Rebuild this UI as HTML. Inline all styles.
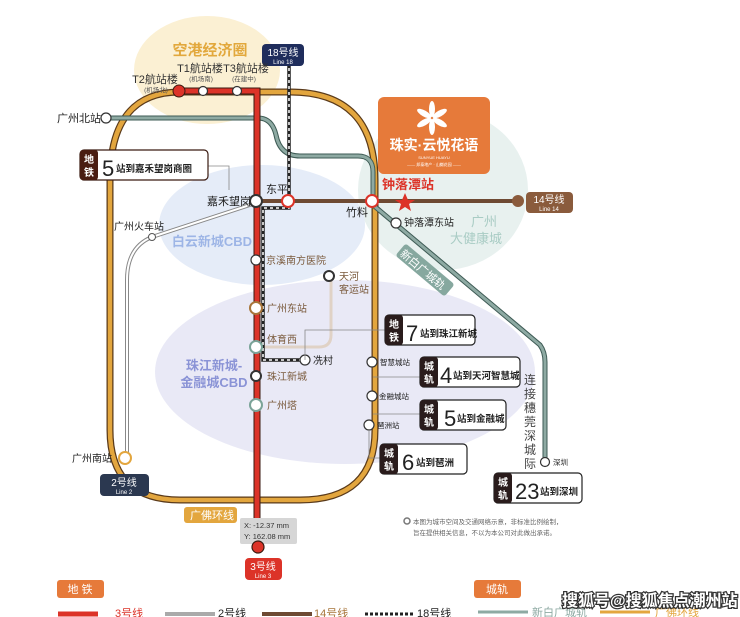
<!DOCTYPE html>
<html><head><meta charset="utf-8"><style>
body{margin:0;background:#fff;}
svg{display:block;font-family:"Liberation Sans","Noto Sans CJK SC",sans-serif;}
</style></head><body>
<svg width="740" height="617" viewBox="0 0 740 617" xmlns="http://www.w3.org/2000/svg">
<ellipse cx="207" cy="70" rx="73" ry="54" fill="#fbf0d3"/>
<ellipse cx="443" cy="190" rx="85" ry="80" fill="#e8f1ef"/>
<ellipse cx="262" cy="225" rx="103" ry="60" fill="#e5ecf8"/>
<ellipse cx="345" cy="372" rx="190" ry="92" fill="#e9e9f6"/>
<text x="210" y="55" font-size="15" font-weight="bold" fill="#e2a83c" text-anchor="middle">空港经济圈</text>
<text x="212" y="246" font-size="13" fill="#9db5e6" text-anchor="middle" font-weight="bold">白云新城CBD</text>
<text x="214" y="370" font-size="13" fill="#8a93d6" text-anchor="middle" font-weight="bold">珠江新城-</text>
<text x="214" y="387" font-size="13" fill="#8a93d6" text-anchor="middle" font-weight="bold">金融城CBD</text>
<text x="484" y="226" font-size="13" fill="#a9ccc4" text-anchor="middle">广州</text>
<text x="476" y="243" font-size="13" fill="#a9ccc4" text-anchor="middle">大健康城</text>

<path d="M180,92 L290,92 Q375,92 375,180 L375,430 Q375,500 300,500 L180,500 Q110,500 110,430 L110,180 Q110,92 180,92 Z" fill="none" stroke="#5a3a1a" stroke-width="7"/>
<path d="M180,92 L290,92 Q375,92 375,180 L375,430 Q375,500 300,500 L180,500 Q110,500 110,430 L110,180 Q110,92 180,92 Z" fill="none" stroke="#e3a63e" stroke-width="4.5"/>

<path d="M256,203 L152,237 Q127,247 127,280 L127,455" fill="none" stroke="#888" stroke-width="4"/>
<path d="M256,203 L152,237 Q127,247 127,280 L127,455" fill="none" stroke="#fff" stroke-width="2"/>
<path d="M331,280 L331,335 Q331,347 319,347 L262,347" fill="none" stroke="#e0d2c6" stroke-width="3"/>

<path d="M108,118 L258,118 Q272,118 276,135 Q280,156 300,156 L358,156 Q373,156 373,172 L373,205 L540,345 Q545,352 545,362 L545,462" fill="none" stroke="#3e5b55" stroke-width="5"/>
<path d="M108,118 L258,118 Q272,118 276,135 Q280,156 300,156 L358,156 Q373,156 373,172 L373,205 L540,345 Q545,352 545,362 L545,462" fill="none" stroke="#8eaaa3" stroke-width="3"/>
<g transform="translate(425,270) rotate(40)"><rect x="-32" y="-8" width="64" height="16" rx="3" fill="#86a89f"/><text x="-2" y="5" font-size="11" fill="#fff" text-anchor="middle">新白广城轨</text></g>
<text font-size="12" fill="#444"><tspan x="524" y="384">连</tspan><tspan x="524" y="398">接</tspan><tspan x="524" y="412">穗</tspan><tspan x="524" y="426">莞</tspan><tspan x="524" y="440">深</tspan><tspan x="524" y="454">城</tspan><tspan x="524" y="468">际</tspan></text>

<line x1="258" y1="201" x2="518" y2="201" stroke="#6e4a33" stroke-width="4"/>
<circle cx="518" cy="201" r="6" fill="#8a5b3c"/>
<rect x="526" y="192" width="47" height="21" rx="4" fill="#8a5b3c"/>
<text x="549" y="203" font-size="10" fill="#fff" text-anchor="middle">14号线</text>
<text x="549" y="211" font-size="6" fill="#fff" text-anchor="middle">Line 14</text>

<path d="M289,62 L289,208 L263,208 L263,360 L305,360" fill="none" stroke="#222" stroke-width="3.5"/>
<path d="M289,62 L289,208 L263,208 L263,360 L305,360" fill="none" stroke="#fff" stroke-width="1.5" stroke-dasharray="3,3"/>
<rect x="262" y="44" width="42" height="22" rx="4" fill="#1f2d5c"/>
<text x="283" y="56" font-size="10" fill="#fff" text-anchor="middle">18号线</text>
<text x="283" y="64" font-size="6" fill="#fff" text-anchor="middle">Line 18</text>

<path d="M178,91 L257,91 L257,545" fill="none" stroke="#3a1a10" stroke-width="7"/>
<path d="M178,91 L257,91 L257,545" fill="none" stroke="#dc3328" stroke-width="5"/>
<circle cx="179" cy="91" r="6" fill="#dc3328" stroke="#3a1a10" stroke-width="1"/>
<circle cx="203" cy="91" r="4.5" fill="#fff" stroke="#333" stroke-width="1.2"/>
<circle cx="237" cy="91" r="4.5" fill="#fff" stroke="#333" stroke-width="1.2"/>
<rect x="240" y="518" width="57" height="26" rx="2" fill="#d6d6d6"/>
<text x="244" y="528" font-size="7.5" fill="#333">X: -12.37 mm</text>
<text x="244" y="539" font-size="7.5" fill="#333">Y: 162.08 mm</text>
<circle cx="258" cy="547" r="6" fill="#dc3328" stroke="#3a1a10" stroke-width="1.2"/>
<rect x="245" y="558" width="37" height="22" rx="4" fill="#dc3328"/>
<text x="263" y="570" font-size="10" fill="#fff" text-anchor="middle">3号线</text>
<text x="263" y="578" font-size="6" fill="#fff" text-anchor="middle">Line 3</text>
<rect x="184" y="507" width="53" height="16" rx="3" fill="#e3a63e"/>
<text x="190" y="519" font-size="11" fill="#fff">广佛环线</text>

<text x="155" y="83" font-size="11" fill="#333" text-anchor="middle">T2航站楼</text>
<text x="156" y="92" font-size="6.5" fill="#555" text-anchor="middle">(机场北)</text>
<text x="200" y="72" font-size="11" fill="#333" text-anchor="middle">T1航站楼</text>
<text x="201" y="81" font-size="6.5" fill="#555" text-anchor="middle">(机场南)</text>
<text x="246" y="72" font-size="11" fill="#333" text-anchor="middle">T3航站楼</text>
<text x="244" y="81" font-size="6.5" fill="#555" text-anchor="middle">(在建中)</text>

<circle cx="106" cy="118" r="5" fill="#fff" stroke="#333" stroke-width="1.2"/>
<text x="57" y="122" font-size="11" fill="#222">广州北站</text>
<circle cx="256" cy="201" r="6" fill="#fff" stroke="#333" stroke-width="2"/>
<text x="207" y="205" font-size="11" fill="#222">嘉禾望岗</text>
<circle cx="288" cy="201" r="6" fill="#fff" stroke="#dc3328" stroke-width="2"/>
<text x="266" y="193" font-size="11" fill="#222">东平</text>
<circle cx="372" cy="201" r="6" fill="#fff" stroke="#dc3328" stroke-width="2"/>
<text x="346" y="216" font-size="11" fill="#222">竹料</text>
<polygon points="405,193 408,200 415,200 409,204 411,211 405,207 399,211 401,204 395,200 402,200" fill="#dc3328"/>
<text x="382" y="189" font-size="13" font-weight="bold" fill="#dc3328">钟落潭站</text>
<circle cx="396" cy="223" r="5" fill="#fff" stroke="#333" stroke-width="1.2"/>
<text x="404" y="226" font-size="10" fill="#222">钟落潭东站</text>
<circle cx="152" cy="237" r="3.5" fill="#fff" stroke="#555" stroke-width="1"/>
<text x="114" y="230" font-size="10" fill="#222">广州火车站</text>
<circle cx="256" cy="260" r="5" fill="#fff" stroke="#333" stroke-width="1.2"/>
<text x="266" y="264" font-size="10" fill="#7a5a3c">京溪南方医院</text>
<circle cx="329" cy="276" r="5" fill="#fff" stroke="#333" stroke-width="2"/>
<text x="339" y="280" font-size="10" fill="#7a5a3c">天河</text>
<text x="339" y="293" font-size="10" fill="#7a5a3c">客运站</text>
<circle cx="256" cy="308" r="6" fill="#fff" stroke="#a8753a" stroke-width="2"/>
<text x="267" y="312" font-size="10" fill="#7a5a3c">广州东站</text>
<circle cx="256" cy="347" r="6" fill="#fff" stroke="#7aa398" stroke-width="2"/>
<text x="267" y="343" font-size="10" fill="#7a5a3c">体育西</text>
<circle cx="305" cy="360" r="5" fill="#fff" stroke="#333" stroke-width="1.2"/>
<text x="313" y="364" font-size="10" fill="#222">冼村</text>
<circle cx="256" cy="376" r="5" fill="#fff" stroke="#333" stroke-width="2"/>
<text x="267" y="380" font-size="10" fill="#7a5a3c">珠江新城</text>
<circle cx="256" cy="405" r="6" fill="#fff" stroke="#7aa398" stroke-width="2"/>
<text x="267" y="409" font-size="10" fill="#7a5a3c">广州塔</text>
<circle cx="372" cy="362" r="5" fill="#fff" stroke="#333" stroke-width="1.2"/>
<text x="380" y="365" font-size="7.5" fill="#222">智慧城站</text>
<circle cx="372" cy="396" r="5" fill="#fff" stroke="#333" stroke-width="1.2"/>
<text x="379" y="399" font-size="7.5" fill="#222">金融城站</text>
<circle cx="369" cy="425" r="5" fill="#fff" stroke="#333" stroke-width="1.2"/>
<text x="377" y="428" font-size="7.5" fill="#222">琶洲站</text>
<circle cx="545" cy="462" r="4.5" fill="#fff" stroke="#333" stroke-width="1.2"/>
<text x="553" y="465" font-size="7.5" fill="#222">深圳</text>
<circle cx="125" cy="458" r="6" fill="#fff" stroke="#e3a63e" stroke-width="2"/>
<text x="72" y="462" font-size="10" fill="#222">广州南站</text>
<rect x="100" y="474" width="49" height="22" rx="4" fill="#2b3850"/>
<text x="124" y="486" font-size="10" fill="#fff" text-anchor="middle">2号线</text>
<text x="124" y="494" font-size="6" fill="#fff" text-anchor="middle">Line 2</text>

<path d="M208,166 L229,166 L229,190" fill="none" stroke="#888" stroke-width="0.8"/>
<path d="M385,330 L305,330 L305,360" fill="none" stroke="#888" stroke-width="0.8"/>
<path d="M420,377 L373,377" fill="none" stroke="#888" stroke-width="0.8"/>
<path d="M420,414 L373,414" fill="none" stroke="#888" stroke-width="0.8"/>
<path d="M380,458 L369,458 L369,430" fill="none" stroke="#888" stroke-width="0.8"/>

<g font-weight="bold">
<rect x="80" y="150" width="128" height="30" rx="4" fill="#fff" stroke="#3a1a10" stroke-width="1.2"/>
<rect x="80" y="150" width="18" height="30" rx="3" fill="#4a1d12"/>
<text x="89" y="163" font-size="10" fill="#fff" text-anchor="middle">地</text><text x="89" y="176" font-size="10" fill="#fff" text-anchor="middle">铁</text>
<text x="102" y="176" font-size="22" fill="#222" font-weight="normal">5</text><text x="116" y="172" font-size="9.5" fill="#222">站到嘉禾望岗商圈</text>

<rect x="385" y="315" width="90" height="30" rx="4" fill="#fff" stroke="#222" stroke-width="1.2"/>
<rect x="385" y="315" width="18" height="30" rx="3" fill="#2a1c1c"/>
<text x="394" y="328" font-size="10" fill="#fff" text-anchor="middle">地</text><text x="394" y="341" font-size="10" fill="#fff" text-anchor="middle">铁</text>
<text x="406" y="341" font-size="22" fill="#222" font-weight="normal">7</text><text x="420" y="337" font-size="9.5" fill="#222">站到珠江新城</text>

<rect x="420" y="357" width="100" height="30" rx="4" fill="#fff" stroke="#222" stroke-width="1.2"/>
<rect x="420" y="357" width="18" height="30" rx="3" fill="#2a1c1c"/>
<text x="429" y="370" font-size="10" fill="#fff" text-anchor="middle">城</text><text x="429" y="383" font-size="10" fill="#fff" text-anchor="middle">轨</text>
<text x="440" y="383" font-size="22" fill="#222" font-weight="normal">4</text><text x="453" y="379" font-size="9.5" fill="#222">站到天河智慧城</text>

<rect x="420" y="400" width="86" height="30" rx="4" fill="#fff" stroke="#222" stroke-width="1.2"/>
<rect x="420" y="400" width="18" height="30" rx="3" fill="#2a1c1c"/>
<text x="429" y="413" font-size="10" fill="#fff" text-anchor="middle">城</text><text x="429" y="426" font-size="10" fill="#fff" text-anchor="middle">轨</text>
<text x="444" y="426" font-size="22" fill="#222" font-weight="normal">5</text><text x="457" y="422" font-size="9.5" fill="#222">站到金融城</text>

<rect x="380" y="444" width="87" height="30" rx="4" fill="#fff" stroke="#222" stroke-width="1.2"/>
<rect x="380" y="444" width="18" height="30" rx="3" fill="#2a1c1c"/>
<text x="389" y="457" font-size="10" fill="#fff" text-anchor="middle">城</text><text x="389" y="470" font-size="10" fill="#fff" text-anchor="middle">轨</text>
<text x="402" y="470" font-size="22" fill="#222" font-weight="normal">6</text><text x="416" y="466" font-size="9.5" fill="#222">站到琶洲</text>

<rect x="494" y="473" width="88" height="30" rx="4" fill="#fff" stroke="#222" stroke-width="1.2"/>
<rect x="494" y="473" width="18" height="30" rx="3" fill="#2a1c1c"/>
<text x="503" y="486" font-size="10" fill="#fff" text-anchor="middle">城</text><text x="503" y="499" font-size="10" fill="#fff" text-anchor="middle">轨</text>
<text x="515" y="499" font-size="22" fill="#222" font-weight="normal">23</text><text x="540" y="495" font-size="9.5" fill="#222">站到深圳</text>
</g>

<rect x="378" y="97" width="112" height="77" rx="6" fill="#e67a3a"/>
<g fill="#fff" transform="translate(432,118)">
<ellipse cx="0" cy="-9" rx="3" ry="8"/><ellipse cx="0" cy="-9" rx="3" ry="8" transform="rotate(60)"/><ellipse cx="0" cy="-9" rx="3" ry="8" transform="rotate(120)"/><ellipse cx="0" cy="-9" rx="3" ry="8" transform="rotate(180)"/><ellipse cx="0" cy="-9" rx="3" ry="8" transform="rotate(240)"/><ellipse cx="0" cy="-9" rx="3" ry="8" transform="rotate(300)"/>
</g>
<text x="434" y="150" font-size="14" fill="#fff" text-anchor="middle" font-weight="bold">珠实·云悦花语</text>
<text x="434" y="159" font-size="4" fill="#fff" text-anchor="middle">SUNYUE HUAYU</text>
<text x="434" y="166" font-size="4" fill="#fff" text-anchor="middle">—— 邦泰地产 · 山樾花园 ——</text>

<circle cx="407" cy="521" r="3" fill="none" stroke="#777" stroke-width="1.5"/>
<text x="413" y="524" font-size="6.5" fill="#666">本图为城市空间及交通网络示意，非标准比例绘制，</text>
<text x="413" y="535" font-size="6.5" fill="#666">旨在提供相关信息，不以为本公司对此做出承诺。</text>

<rect x="57" y="580" width="47" height="18" rx="3" fill="#e67a3a"/>
<text x="80" y="593" font-size="11" fill="#fff" text-anchor="middle">地 铁</text>
<rect x="474" y="580" width="47" height="18" rx="3" fill="#e67a3a"/>
<text x="497" y="593" font-size="11" fill="#fff" text-anchor="middle">城轨</text>
<line x1="58" y1="614" x2="98" y2="614" stroke="#dc3328" stroke-width="5"/><text x="115" y="617" font-size="11" fill="#dc3328">3号线</text>
<line x1="165" y1="614" x2="215" y2="614" stroke="#aaa" stroke-width="4"/><text x="218" y="617" font-size="11" fill="#222">2号线</text>
<line x1="262" y1="614" x2="312" y2="614" stroke="#6e4a33" stroke-width="4"/><text x="314" y="617" font-size="11" fill="#a8753a">14号线</text>
<line x1="365" y1="614" x2="415" y2="614" stroke="#222" stroke-width="3" stroke-dasharray="3,2"/><text x="417" y="617" font-size="11" fill="#222">18号线</text>
<line x1="478" y1="612" x2="528" y2="612" stroke="#8eaaa3" stroke-width="3"/><text x="532" y="616" font-size="11" fill="#8eaaa3">新白广城轨</text>
<line x1="600" y1="612" x2="650" y2="612" stroke="#e3a63e" stroke-width="3"/><text x="655" y="616" font-size="11" fill="#e3a63e">广佛环线</text>
<text x="562" y="606" font-size="16" font-weight="bold" fill="#fff" stroke="#333" stroke-width="2.5" paint-order="stroke">搜狐号@搜狐焦点潮州站</text>
</svg>
</body></html>
